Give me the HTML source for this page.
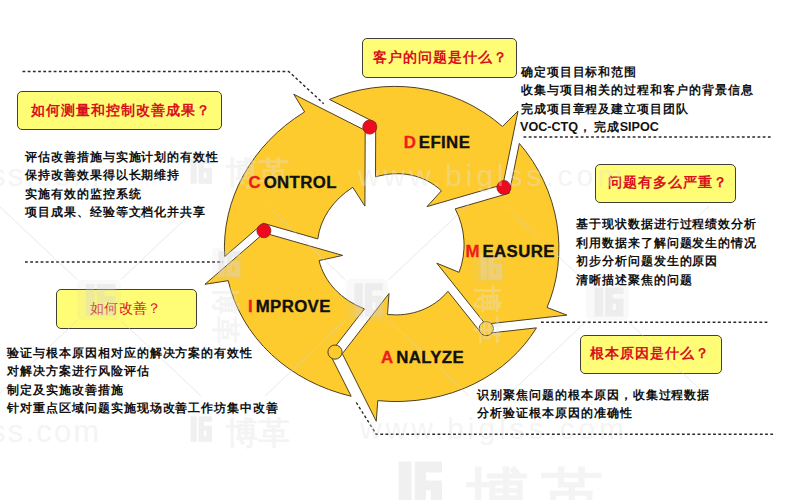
<!DOCTYPE html>
<html><head><meta charset="utf-8">
<style>
html,body{margin:0;padding:0;background:#fff;}
body{width:800px;height:500px;position:relative;overflow:hidden;font-family:"Liberation Sans",sans-serif;}
.ring{position:absolute;left:0;top:0;}
.lines{position:absolute;left:0;top:0;}
.box{position:absolute;box-sizing:border-box;background:#fffc76;border:1.2px solid #404038;border-radius:5px;}
.bt{position:absolute;color:#d8121c;font-size:14px;line-height:14px;white-space:nowrap;font-weight:bold;letter-spacing:1px;}
.tx{position:absolute;color:#111;font-size:12px;line-height:18.5px;white-space:nowrap;letter-spacing:0.94px;font-weight:bold;}
.lab{position:absolute;font-weight:bold;font-size:16.8px;line-height:16.8px;white-space:nowrap;color:#111;letter-spacing:0.4px;-webkit-text-stroke:0.35px currentColor;}
.lab i{font-style:normal;margin-left:2.6px;}
.lab b{color:#ee1c1c;}
.wm{position:absolute;color:#ececec;white-space:nowrap;}
</style></head><body>
<svg class="lines" width="800" height="500">
<g fill="none" stroke="#2a2a2a" stroke-width="1.4" stroke-dasharray="2.8 2.4">
<polyline points="22.5,71.5 288.75,71.5 323.75,103.75"/>
<polyline points="25,262 223,262"/>
<polyline points="523.5,137 772,137"/>
<polyline points="541,322.3 768.5,322.3"/>
<polyline points="356.25,402.5 376.25,434.3 773,434.3"/>
</g>
</svg>
<svg class="ring" width="800" height="500" viewBox="0 0 800 500">
<g fill="#fecb2e" stroke="#4f4020" stroke-width="1" stroke-linejoin="miter">
<path d="M304.61,111.95 L294.64,118.48 L285.75,125.17 L277.26,132.44 L269.23,140.27 L261.70,148.65 L254.71,157.55 L248.31,166.96 L243.25,175.57 L238.11,185.82 L234.23,195.11 L230.95,204.67 L228.31,214.45 L226.10,225.86 L224.91,235.97 L224.42,246.16 L224.67,256.57 L263.14,223.23 L317.80,238.92 L319.16,231.57 L321.49,224.14 L324.67,217.10 L328.59,210.52 L333.53,203.97 L339.07,198.05 L345.58,192.38 L352.76,187.29 L364.90,206.10 L365.20,130.40 L293.75,94.25Z"/>
<path d="M204.90,284.30 L228.19,280.65 L230.95,290.74 L234.34,300.35 L238.40,309.69 L243.82,319.95 L249.20,328.52 L256.02,337.82 L263.49,346.52 L271.55,354.61 L280.13,362.06 L289.16,368.85 L298.58,374.97 L308.32,380.44 L318.33,385.25 L328.57,389.42 L340.31,393.36 L351.16,396.27 L329.72,353.61 L364.40,308.89 L356.07,305.13 L348.56,300.74 L344.96,298.23 L341.49,295.51 L338.16,292.58 L335.00,289.43 L332.02,286.06 L329.64,283.02 L327.08,279.28 L325.09,275.93 L323.02,271.87 L321.48,268.26 L320.18,264.56 L319.07,260.62 L342.60,255.40 L264.20,232.90Z"/>
<path d="M342.30,353.70 L376.25,421.25 L377.76,400.64 L390.13,401.41 L396.98,401.50 L403.83,401.34 L416.16,400.43 L428.47,398.68 L440.69,396.08 L452.76,392.59 L464.61,388.18 L474.89,383.49 L484.88,378.06 L493.32,372.70 L502.56,365.90 L510.23,359.36 L517.48,352.30 L524.26,344.74 L530.52,336.71 L536.48,327.85 L481.91,333.95 L447.94,291.31 L445.14,294.46 L441.98,297.56 L439.11,300.04 L435.58,302.72 L432.42,304.81 L428.59,307.00 L425.20,308.67 L421.14,310.36 L417.59,311.60 L413.38,312.79 L409.11,313.70 L404.82,314.36 L400.50,314.76 L396.19,314.91 L387.47,314.50 L389.00,293.50Z"/>
<path d="M566.90,315.10 L547.03,307.50 L550.69,297.96 L553.69,288.16 L556.02,278.17 L557.84,266.60 L558.70,256.39 L558.85,244.70 L558.26,234.50 L556.77,222.94 L554.78,212.96 L551.74,201.76 L547.92,190.84 L543.34,180.25 L538.74,171.29 L532.85,161.44 L526.30,152.05 L519.35,143.42 L509.20,193.21 L455.23,208.84 L458.71,216.40 L461.27,224.13 L463.01,232.07 L463.92,240.13 L464.07,244.50 L463.98,248.87 L463.16,256.96 L461.48,264.93 L459.07,272.32 L436.80,263.20 L485.40,324.20Z"/>
<path d="M503.00,184.60 L518.00,111.00 L502.46,126.46 L493.26,119.04 L488.68,115.73 L482.82,111.83 L473.12,106.14 L468.14,103.55 L461.80,100.56 L451.43,96.36 L439.49,92.50 L428.67,89.86 L416.35,87.77 L405.32,86.71 L394.26,86.38 L383.22,86.78 L372.25,87.90 L361.38,89.72 L350.65,92.24 L340.10,95.42 L329.42,99.41 L375.73,122.84 L375.52,176.88 L379.76,175.75 L384.56,174.77 L389.43,174.09 L393.73,173.76 L398.07,173.69 L402.42,173.88 L406.77,174.35 L411.09,175.11 L415.37,176.16 L419.57,177.50 L423.68,179.14 L427.11,180.76 L430.98,182.92 L434.70,185.34 L438.24,188.02 L441.45,190.81 L427.00,206.60Z"/>
</g>
<circle cx="369.75" cy="127.05" r="7.0" fill="#ee0a1e" stroke="#8a2020" stroke-width="0.8"/>
<circle cx="503.9" cy="187.5" r="7.0" fill="#ee0a1e" stroke="#8a2020" stroke-width="0.8"/>
<circle cx="486.3" cy="328.6" r="7.1" fill="#fecb2e" stroke="#4f4020" stroke-width="1"/>
<circle cx="335" cy="352.1" r="7.1" fill="#fecb2e" stroke="#4f4020" stroke-width="1"/>
<circle cx="263.9" cy="230.75" r="7.0" fill="#ee0a1e" stroke="#8a2020" stroke-width="0.8"/>

</svg>
<div class="box" style="left:362px;top:38px;width:154.5px;height:39.5px;"></div>
<div class="bt" style="left:373px;top:50px;">客户的问题是什么？</div>
<div class="box" style="left:16.8px;top:90.7px;width:205.5px;height:39.7px;"></div>
<div class="bt" style="left:31px;top:102.5px;">如何测量和控制改善成果？</div>
<div class="box" style="left:595px;top:164px;width:141px;height:39px;"></div>
<div class="bt" style="left:607.5px;top:174.5px;">问题有多么严重？</div>
<div class="box" style="left:580px;top:335px;width:141.5px;height:39px;"></div>
<div class="bt" style="left:589.5px;top:345.5px;">根本原因是什么？</div>
<div class="box" style="left:55.5px;top:289px;width:141.3px;height:40px;"></div>
<div class="bt" style="left:90px;top:300.8px;font-weight:normal;letter-spacing:0.3px;">如何改善？</div>

<svg class="wm" width="800" height="500" style="position:absolute;left:0;top:0;">
<defs>
<g id="lg">
<rect x="0" y="0" width="40" height="40" rx="5" fill="rgba(200,200,200,0.10)"/>
<path d="M8,4 L16,4 L16,36 L8,36 Z M18,4 L35,4 L35,11 L25,11 L25,29 L28,29 L28,22 L23,22 L23,16 L35,16 L35,36 L18,36 Z" fill="rgba(210,210,210,0.32)"/>
</g>
<g id="lg2">
<path d="M8,4 L16,4 L16,36 L8,36 Z M18,4 L35,4 L35,11 L25,11 L25,29 L28,29 L28,22 L23,22 L23,16 L35,16 L35,36 L18,36 Z" fill="rgba(215,215,215,0.38)"/>
</g>
<g id="vlg">
<rect x="0" y="0" width="40" height="40" rx="5" fill="rgba(200,200,200,0.10)"/>
<path d="M8,4 L16,4 L16,36 L8,36 Z M18,4 L35,4 L35,11 L25,11 L25,29 L28,29 L28,22 L23,22 L23,16 L35,16 L35,36 L18,36 Z" fill="rgba(215,215,215,0.38)"/>
</g>
</defs>
<g fill="rgba(226,226,226,0.38)" font-family="Liberation Sans" >
<text x="-10" y="186" font-size="31" letter-spacing="2.2">ss.com</text>
<text x="226" y="184" font-size="32" font-weight="bold">博革</text>
<text x="358" y="186" font-size="30" letter-spacing="3.9">www.biglss.com</text>
<text x="-10" y="441.5" font-size="31" letter-spacing="2.2">ss.com</text>
<text x="226" y="444" font-size="32" font-weight="bold">博革</text>
<text x="360" y="439" font-size="30" letter-spacing="3.9">www.biglss.com</text>
<text x="466" y="520" font-size="64" font-weight="bold" letter-spacing="10">博革</text>
<g transform="translate(216,287) rotate(90)"><text x="0" y="0" font-size="28" font-weight="bold">博</text></g>
<g transform="translate(216,316) rotate(90)"><text x="0" y="0" font-size="28" font-weight="bold">革</text></g>
<g transform="translate(478,285) rotate(90)"><text x="0" y="0" font-size="28" font-weight="bold">博</text></g>
<g transform="translate(478,316) rotate(90)"><text x="0" y="0" font-size="28" font-weight="bold">革</text></g>
</g>
<g stroke="rgba(212,212,212,0.5)" stroke-width="1" fill="none"><line x1="77.1" y1="279.5" x2="-3.0" y2="204.1"/><line x1="77.1" y1="320.5" x2="-3.0" y2="395.9"/><line x1="120.9" y1="279.5" x2="201.0" y2="204.1"/><line x1="120.9" y1="320.5" x2="201.0" y2="395.9"/><line x1="345.1" y1="279.5" x2="265.0" y2="204.1"/><line x1="345.1" y1="320.5" x2="265.0" y2="395.9"/><line x1="388.9" y1="279.5" x2="469.0" y2="204.1"/><line x1="388.9" y1="320.5" x2="469.0" y2="395.9"/><line x1="585.1" y1="281.5" x2="505.0" y2="206.1"/><line x1="585.1" y1="322.5" x2="505.0" y2="397.9"/><line x1="628.9" y1="281.5" x2="709.0" y2="206.1"/><line x1="628.9" y1="322.5" x2="709.0" y2="397.9"/></g>
<use href="#lg2" transform="translate(184,155) scale(0.8)"/>
<use href="#lg2" transform="translate(184,413) scale(0.8)"/>
<use href="#lg2" transform="translate(386,455) scale(1.6)"/>
<use href="#vlg" transform="translate(212,248) scale(0.8)"/>
<use href="#vlg" transform="translate(474,251) scale(0.8)"/>
<use href="#lg" transform="translate(346,279) scale(1.05)"/>
<use href="#lg" transform="translate(586,284) scale(1.07,0.9)"/>
<use href="#lg" transform="translate(77,280) scale(1.1,1.0)"/>
</svg>
<div class="tx" style="left:520.8px;top:62.5px;">确定项目目标和范围<br>收集与项目相关的过程和客户的背景信息<br>完成项目章程及建立项目团队</div>
<div class="tx" style="left:520px;top:117.5px;letter-spacing:0;font-size:12.6px;">VOC-CTQ<span style="font-size:12px;letter-spacing:0.94px;padding-left:1px;">，</span><span style="font-size:12px;letter-spacing:0.94px;padding-left:1.8px;">完成</span>SIPOC</div>
<div class="tx" style="left:25px;top:147.5px;">评估改善措施与实施计划的有效性<br>保持改善效果得以长期维持<br>实施有效的监控系统<br>项目成果、经验等文档化并共享</div>
<div class="tx" style="left:576px;top:215px;">基于现状数据进行过程绩效分析<br>利用数据来了解问题发生的情况<br>初步分析问题发生的原因<br>清晰描述聚焦的问题</div>
<div class="tx" style="left:477.4px;top:385.5px;">识别聚焦问题的根本原因，收集过程数据<br>分析验证根本原因的准确性</div>
<div class="tx" style="left:7.25px;top:343.5px;">验证与根本原因相对应的解决方案的有效性<br>对解决方案进行风险评估<br>制定及实施改善措施<br>针对重点区域问题实施现场改善工作坊集中改善</div>

<div class="lab" style="left:248.5px;top:174.5px;"><b>C</b><i>ONTROL</i></div>
<div class="lab" style="left:403.7px;top:134.5px;"><b>D</b><i>EFINE</i></div>
<div class="lab" style="left:465.5px;top:243.8px;"><b>M</b><i>EASURE</i></div>
<div class="lab" style="left:248px;top:299.3px;"><b>I</b><i>MPROVE</i></div>
<div class="lab" style="left:381px;top:350.3px;"><b>A</b><i>NALYZE</i></div>
</body></html>
